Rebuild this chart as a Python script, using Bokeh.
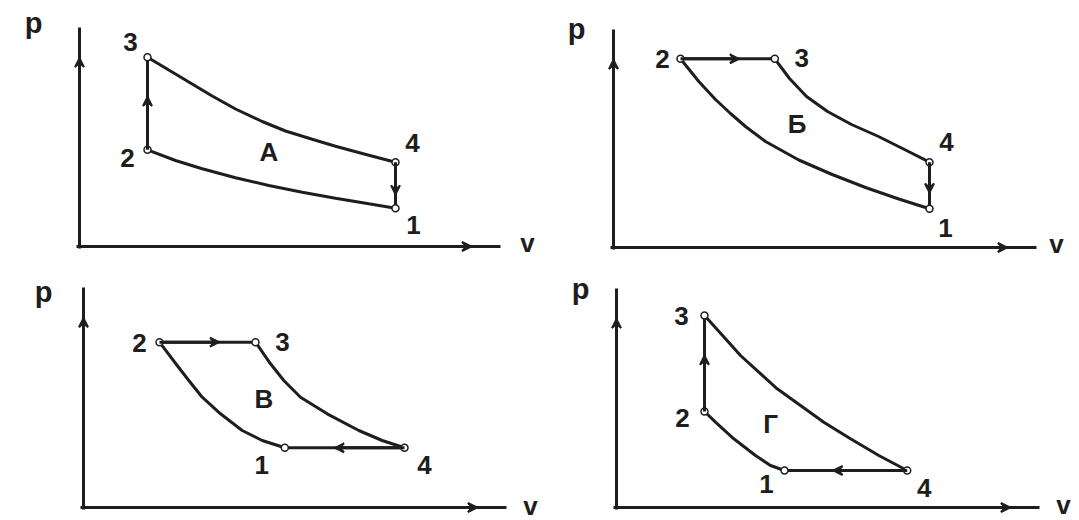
from bokeh.plotting import figure
from bokeh.layouts import gridplot
from bokeh.models import Range1d, Arrow, VeeHead, Label
from bokeh.embed import file_html
from bokeh.resources import INLINE

# ---------------- data (v, p in arbitrary units) ----------------
# state points in order 1, 2, 3, 4
A_V = [31.6, 6.8, 6.8, 31.6]
A_P = [3.83, 9.67, 18.93, 8.43]
A_CMP_V = [6.8, 9.6, 12.27, 15.6, 18.93, 22.27, 25.6, 28.93, 31.6]          # curve 1-2
A_CMP_P = [9.67, 8.6, 7.77, 6.87, 6.1, 5.43, 4.83, 4.27, 3.83]
A_EXP_V = [6.8, 8.93, 10.93, 13.27, 15.6, 18.27, 20.6, 23.27, 25.6, 28.93, 31.6]  # curve 3-4
A_EXP_P = [18.93, 17.65, 16.45, 15.05, 13.75, 12.5, 11.55, 10.72, 10.02, 9.12, 8.43]

B_V = [31.6, 6.7, 16.13, 31.6]
B_P = [3.87, 18.87, 18.87, 8.53]
B_CMP_V = [6.7, 8.53, 10.2, 11.7, 13.2, 15.2, 18.53, 21.87, 25.2, 28.53, 31.6]
B_CMP_P = [18.87, 16.6, 14.8, 13.4, 12.1, 10.6, 8.75, 7.3, 6.0, 4.85, 3.87]
B_EXP_V = [16.13, 17.6, 19.3, 21.4, 23.8, 26.5, 29.2, 31.6]
B_EXP_P = [18.87, 16.9, 15.1, 13.6, 12.3, 11.1, 9.75, 8.53]

C_V = [20.13, 7.6, 17.2, 32.1]
C_P = [5.97, 16.53, 16.53, 5.97]
C_CMP_V = [7.6, 9.37, 10.53, 11.87, 13.7, 15.87, 17.87, 20.13]
C_CMP_P = [16.53, 14.2, 12.7, 11.03, 9.37, 7.7, 6.7, 5.97]
C_EXP_V = [17.2, 18.7, 20.03, 21.7, 24.37, 27.53, 29.87, 32.1]
C_EXP_P = [16.53, 14.37, 12.7, 11.03, 9.37, 7.7, 6.7, 5.97]

D_V = [16.8, 8.8, 8.8, 29.07]
D_P = [3.7, 9.6, 19.2, 3.7]
D_CMP_V = [8.8, 9.9, 11.73, 13.9, 15.4, 16.8]
D_CMP_P = [9.6, 8.53, 6.87, 5.2, 4.2, 3.7]
D_EXP_V = [8.8, 10.9, 12.4, 14.23, 16.07, 18.4, 20.73, 23.4, 26.23, 29.07]
D_EXP_P = [19.2, 16.87, 15.2, 13.53, 11.87, 10.2, 8.53, 6.87, 5.2, 3.7]

POINT_LABELS = ["1", "2", "3", "4"]
CYCLE_NAMES = ["A", "Б", "В", "Г"]
CYCLE_NAME_V = [18.93, 18.37, 18.03, 15.4]
CYCLE_NAME_P = [9.43, 12.37, 10.87, 8.37]
AXIS_V_MAX = [42.1, 42.3, 42.3, 42.3]
AXIS_P_MAX = [21.9, 21.8, 22.0, 21.9]

# ---------------- layout / style ----------------
INK = "#1e1e1e"
FONT = "Liberation Sans"
SCALE = 10.0
FIG_W = [540, 539, 540, 539]
FIG_H = 260
# axis origin inside each figure (px from left, px from bottom)
ORIGINS = [(79, 14), (73, 13), (83, 13), (76, 13)]
# label offsets (screen px dx, dy-down) for points 1..4
LABEL_OFFSETS = [
    [(18, 17), (-20, 8), (-17, -15), (17, -19)],
    [(16, 19), (-18, 0), (27, -1), (17, -20)],
    [(-23, 17), (-20, 1), (27, 0), (20, 17)],
    [(-18, 13), (-22, 6), (-23, 0), (17, 17)],
]
P_LABEL_OFF = [(-46, -5), (-37, -1), (-40, 4), (-36, 0)]
V_LABEL_OFF = [(27, -4), (20, -4), (24, -2), (24, -3)]
# arrow heads on straight segments 2-3 and 4-1 : fraction where tip sits
ARROW_FRAC = [(0.57, 0.7), (0.62, 0.65), (0.62, 0.58), (0.58, 0.6)]

DATA = [
    (A_V, A_P, A_CMP_V, A_CMP_P, A_EXP_V, A_EXP_P),
    (B_V, B_P, B_CMP_V, B_CMP_P, B_EXP_V, B_EXP_P),
    (C_V, C_P, C_CMP_V, C_CMP_P, C_EXP_V, C_EXP_P),
    (D_V, D_P, D_CMP_V, D_CMP_P, D_EXP_V, D_EXP_P),
]
LW = 3


def label(f, x, y, text, size, dx=0, dy=0):
    f.add_layout(Label(x=x, y=y, text=text, x_offset=dx, y_offset=-dy,
                       text_font=FONT, text_font_style="bold",
                       text_font_size=size, text_color=INK,
                       text_align="center", text_baseline="middle"))


def arrow(f, x0, y0, x1, y1, frac):
    xe = x0 + frac * (x1 - x0)
    ye = y0 + frac * (y1 - y0)
    f.add_layout(Arrow(x_start=x0, y_start=y0, x_end=xe, y_end=ye,
                       line_color=INK, line_width=LW,
                       end=VeeHead(size=9, line_color=INK, line_width=2,
                                   fill_color=INK)))


figs = []
for i in range(4):
    ox, oy = ORIGINS[i]
    w = FIG_W[i]
    f = figure(width=w, height=FIG_H, output_backend="svg",
               toolbar_location=None, x_axis_type=None, y_axis_type=None,
               min_border=0,
               x_range=Range1d(-ox / SCALE, (w - ox) / SCALE),
               y_range=Range1d(-oy / SCALE, (FIG_H - oy) / SCALE))
    f.outline_line_color = None
    f.background_fill_color = "white"
    f.border_fill_color = "white"

    pv, pp, cv, cp, ev, ep = DATA[i]
    vmax, pmax = AXIS_V_MAX[i], AXIS_P_MAX[i]

    # coordinate axes with arrows
    f.line([0, 0], [-0.2, pmax], line_color=INK, line_width=LW)
    f.line([-0.3, vmax], [0, 0], line_color=INK, line_width=LW)
    arrow(f, 0, 0, 0, pmax, 0.86)
    arrow(f, 0, 0, vmax, 0, 0.93)
    px, py = P_LABEL_OFF[i]
    label(f, 0, pmax, "p", "29px", px, py)
    qx, qy = V_LABEL_OFF[i]
    label(f, vmax, 0, "v", "26px", qx, qy)

    # cycle
    f.line(cv, cp, line_color=INK, line_width=LW)
    f.line(ev, ep, line_color=INK, line_width=LW)
    f.line([pv[1], pv[2]], [pp[1], pp[2]], line_color=INK, line_width=LW)
    f.line([pv[3], pv[0]], [pp[3], pp[0]], line_color=INK, line_width=LW)
    fa, fb = ARROW_FRAC[i]
    arrow(f, pv[1], pp[1], pv[2], pp[2], fa)
    arrow(f, pv[3], pp[3], pv[0], pp[0], fb)
    f.scatter(pv, pp, marker="circle", size=7, fill_color="white",
              line_color=INK, line_width=1.5)

    for k in range(4):
        dx, dy = LABEL_OFFSETS[i][k]
        label(f, pv[k], pp[k], POINT_LABELS[k], "26px", dx, dy)
    label(f, CYCLE_NAME_V[i], CYCLE_NAME_P[i], CYCLE_NAMES[i], "26px")
    figs.append(f)

grid = gridplot([[figs[0], figs[1]], [figs[2], figs[3]]], toolbar_location=None)
open("out.html", "w").write(file_html(grid, INLINE))
